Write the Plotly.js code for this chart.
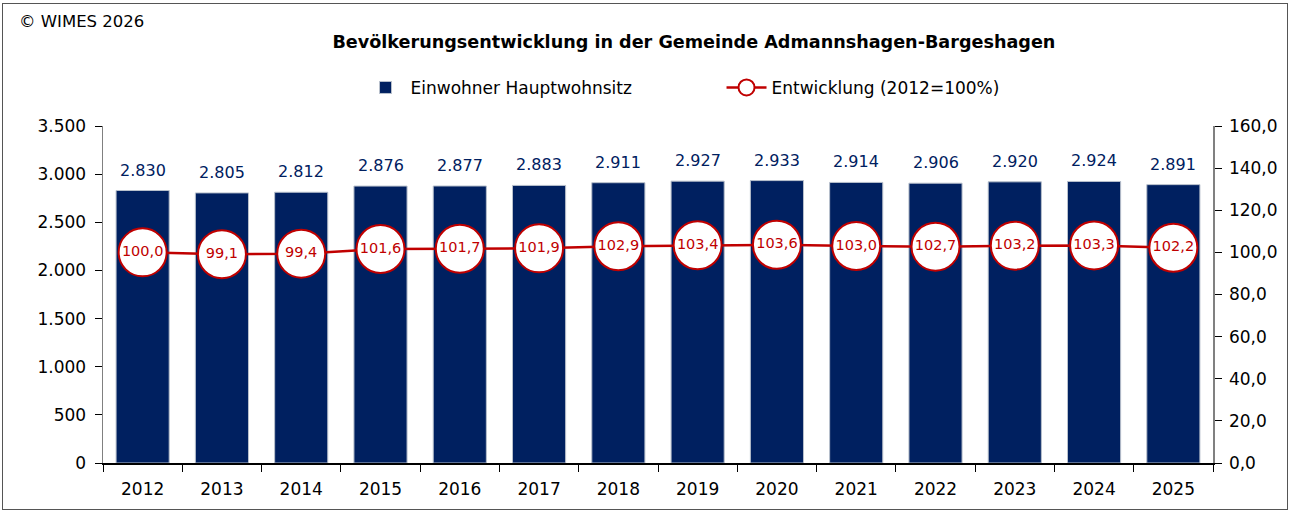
<!DOCTYPE html>
<html>
<head>
<meta charset="utf-8">
<script src="https://cdn.plot.ly/plotly-3.0.1.min.js"></script>
<style>
body{margin:0;padding:0;background:#fff;}
#chart{width:1291px;height:512px;position:absolute;left:0;top:0;}
#frame{position:absolute;left:2px;top:3px;width:1284px;height:505px;border:1px solid #555;pointer-events:none;}
</style>
</head>
<body>
<div id="chart"></div>
<div id="frame"></div>
<script>
const years = ['2012','2013','2014','2015','2016','2017','2018','2019','2020','2021','2022','2023','2024','2025'];
const einwohner = [2830, 2805, 2812, 2876, 2877, 2883, 2911, 2927, 2933, 2914, 2906, 2920, 2924, 2891];
const entwicklung = [100.0, 99.1, 99.4, 101.6, 101.7, 101.9, 102.9, 103.4, 103.6, 103.0, 102.7, 103.2, 103.3, 102.2];

const FONT = 'DejaVu Sans, Verdana, sans-serif';
const NAVY = '#002060';
const RED = '#C00000';

function de(n, dec){
  let s = n.toFixed(dec).split('.');
  s[0] = s[0].replace(/\B(?=(\d{3})+(?!\d))/g, '.');
  return s.join(',');
}

const traces = [
  {
    type: 'bar', x: years, y: einwohner, name: 'Einwohner Hauptwohnsitz',
    marker: {color: NAVY, line: {color: '#b8c0cc', width: 1}},
    hoverinfo: 'skip'
  },
  {
    type: 'scatter', mode: 'lines+markers+text', x: years, y: entwicklung, yaxis: 'y2',
    name: 'Entwicklung (2012=100%)',
    line: {color: RED, width: 2.5},
    marker: {size: 48, color: '#ffffff', line: {color: RED, width: 2}},
    text: entwicklung.map(v => de(v, 1)),
    textposition: 'middle center',
    textfont: {family: FONT, size: 14.5, color: RED},
    cliponaxis: false,
    hoverinfo: 'skip'
  }
];

const annotations = years.map((yr, i) => ({
  x: i, y: einwohner[i], xref: 'x', yref: 'y',
  text: de(einwohner[i], 0), showarrow: false,
  yanchor: 'bottom', yshift: 9,
  font: {family: FONT, size: 16, color: NAVY}
}));
annotations.push({
  xref: 'paper', yref: 'paper', x: -0.0775, y: 1.309, xanchor: 'left', yanchor: 'middle',
  text: '© WIMES 2026', showarrow: false,
  font: {family: FONT, size: 16.5, color: '#000'}
});

const layout = {
  width: 1291, height: 512,
  margin: {l: 103, r: 78, t: 126, b: 49},
  paper_bgcolor: 'rgba(0,0,0,0)', plot_bgcolor: 'rgba(0,0,0,0)',
  font: {family: FONT, size: 16, color: '#000'},
  separators: ',.',
  title: {text: '<b>Bevölkerungsentwicklung in der Gemeinde Admannshagen-Bargeshagen</b>',
          x: 0.5375, xanchor: 'center', y: 0.918, yanchor: 'middle',
          font: {family: FONT, size: 17.6, color: '#000'}},
  bargap: 0.33,
  showlegend: true,
  legend: {orientation: 'h', x: 0.232, xanchor: 'left', y: 1.113, yanchor: 'middle',
           font: {family: FONT, size: 17}, itemwidth: 40, entrywidth: 306, traceorder: 'normal'},
  xaxis: {
    type: 'category', range: [-0.5, 13.5], showline: true, linecolor: '#000', linewidth: 1.5,
    ticks: 'outside', ticklen: 7, tickcolor: '#000', tickwidth: 1, tickson: 'boundaries',
    showgrid: false, zeroline: false, fixedrange: true, tickangle: 0,
    tickfont: {family: FONT, size: 17}, ticklabelstandoff: 10
  },
  yaxis: {
    range: [0, 3500], dtick: 500, tickformat: ',d', showline: true, linecolor: '#808080', linewidth: 1.5,
    ticks: 'outside', ticklen: 7, tickcolor: '#000', showgrid: false, zeroline: false,
    tickfont: {family: FONT, size: 17}, ticklabelstandoff: 5
  },
  yaxis2: {
    range: [0, 160], dtick: 20, tickformat: '.1f', overlaying: 'y', side: 'right',
    showline: true, linecolor: '#808080', linewidth: 1.5,
    ticks: 'outside', ticklen: 7, tickcolor: '#000', showgrid: false, zeroline: false,
    tickfont: {family: FONT, size: 17}, ticklabelstandoff: 4
  },
  annotations: annotations
};

Plotly.newPlot('chart', traces, layout, {staticPlot: true});
</script>
</body>
</html>
